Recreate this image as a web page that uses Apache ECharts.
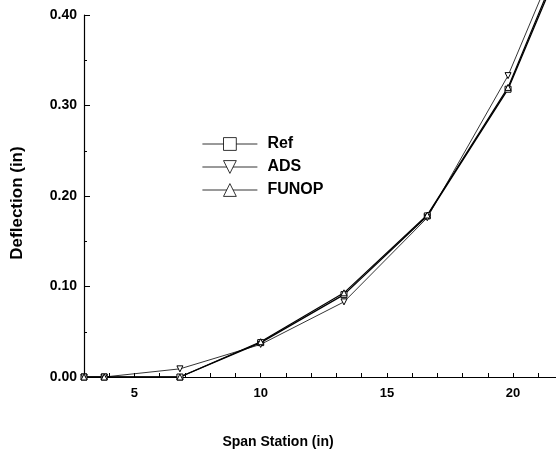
<!DOCTYPE html>
<html>
<head>
<meta charset="utf-8">
<script src="https://cdn.jsdelivr.net/npm/echarts@6/dist/echarts.min.js"></script>
<style>html,body{margin:0;padding:0;background:#fff}#c{width:556px;height:451px}</style>
</head>
<body>
<div id="c"></div>
<script>
const stations = [3, 3.8, 6.8, 10, 13.3, 16.6, 19.8, 23];
const refVals   = [0, 0, 0, 0.038, 0.091, 0.178, 0.318, 0.53];
const adsVals   = [0, 0, 0.009, 0.036, 0.083, 0.176, 0.333, 0.545];
const funopVals = [0, 0, 0, 0.039, 0.093, 0.179, 0.320, 0.535];
const seriesNames = ['Ref', 'ADS', 'FUNOP'];

const pair = (xs, ys) => xs.map((x, i) => [x, ys[i]]);
const font = 'Liberation Sans, Arial, sans-serif';
const downTri = 'path://M0,0 L10,0 L5,9 Z';

const chart = echarts.init(document.getElementById('c'), null, {renderer: 'canvas'});
const lineS = (name, data, symbol, w) => ({
  name, type: 'line', data, symbol, symbolSize: 6, clip: false,
  showAllSymbol: true,
  lineStyle: {color: '#000', width: w},
  itemStyle: {color: '#fff', borderColor: '#000', borderWidth: 1},
  emphasis: {disabled: true}
});
chart.setOption({
  animation: false,
  backgroundColor: '#fff',
  grid: {left: 84, right: 0, top: 15, bottom: 74, containLabel: false, outerBoundsMode: 'none'},
  legend: {
    orient: 'vertical', left: 197, top: 131, itemWidth: 55, itemHeight: 16, itemGap: 7,
    lineStyle: {width: 0.8, color: '#000'},
    itemStyle: {color: '#fff', borderColor: '#000', borderWidth: 0.8},
    textStyle: {fontFamily: font, fontWeight: 'bold', fontSize: 16, color: '#000', padding: [0,0,0,5]},
    data: seriesNames
  },
  xAxis: {
    type: 'value', min: 3, max: 21.7, interval: 1,
    name: 'Span Station (in)', nameLocation: 'middle', nameGap: 58,
    nameTextStyle: {fontFamily: font, fontWeight: 'bold', fontSize: 14, color: '#000', padding: [0, 84, 0, 0]},
    axisLine: {lineStyle: {color: '#000', width: 1.2}},
    axisTick: {inside: true, length: 4, lineStyle: {color: '#000'}},
    axisLabel: {fontFamily: font, fontWeight: 'bold', fontSize: 13, color: '#000', margin: 10,
      showMinLabel: false, showMaxLabel: false,
      formatter: v => (Math.abs(v % 5) < 1e-9 ? String(v) : '')},
    splitLine: {show: false}
  },
  yAxis: {
    type: 'value', min: 0, max: 0.4, interval: 0.1,
    name: 'Deflection (in)', nameLocation: 'middle', nameGap: 58,
    nameTextStyle: {fontFamily: font, fontWeight: 'bold', fontSize: 17, color: '#000', padding: [0, 14, 0, 0]},
    axisLine: {show: true, lineStyle: {color: '#000', width: 1.2}},
    axisTick: {show: true, inside: true, length: 6, lineStyle: {color: '#000'}},
    minorTick: {show: true, splitNumber: 2, length: 3, lineStyle: {color: '#000'}},
    axisLabel: {fontFamily: font, fontWeight: 'bold', fontSize: 14, color: '#000', margin: 7,
      formatter: v => v.toFixed(2)},
    splitLine: {show: false}
  },
  series: [
    lineS('Ref', pair(stations, refVals), 'rect', 1.3),
    lineS('ADS', pair(stations, adsVals), downTri, 0.8),
    lineS('FUNOP', pair(stations, funopVals), 'triangle', 1.2)
  ]
});
</script>
</body>
</html>
